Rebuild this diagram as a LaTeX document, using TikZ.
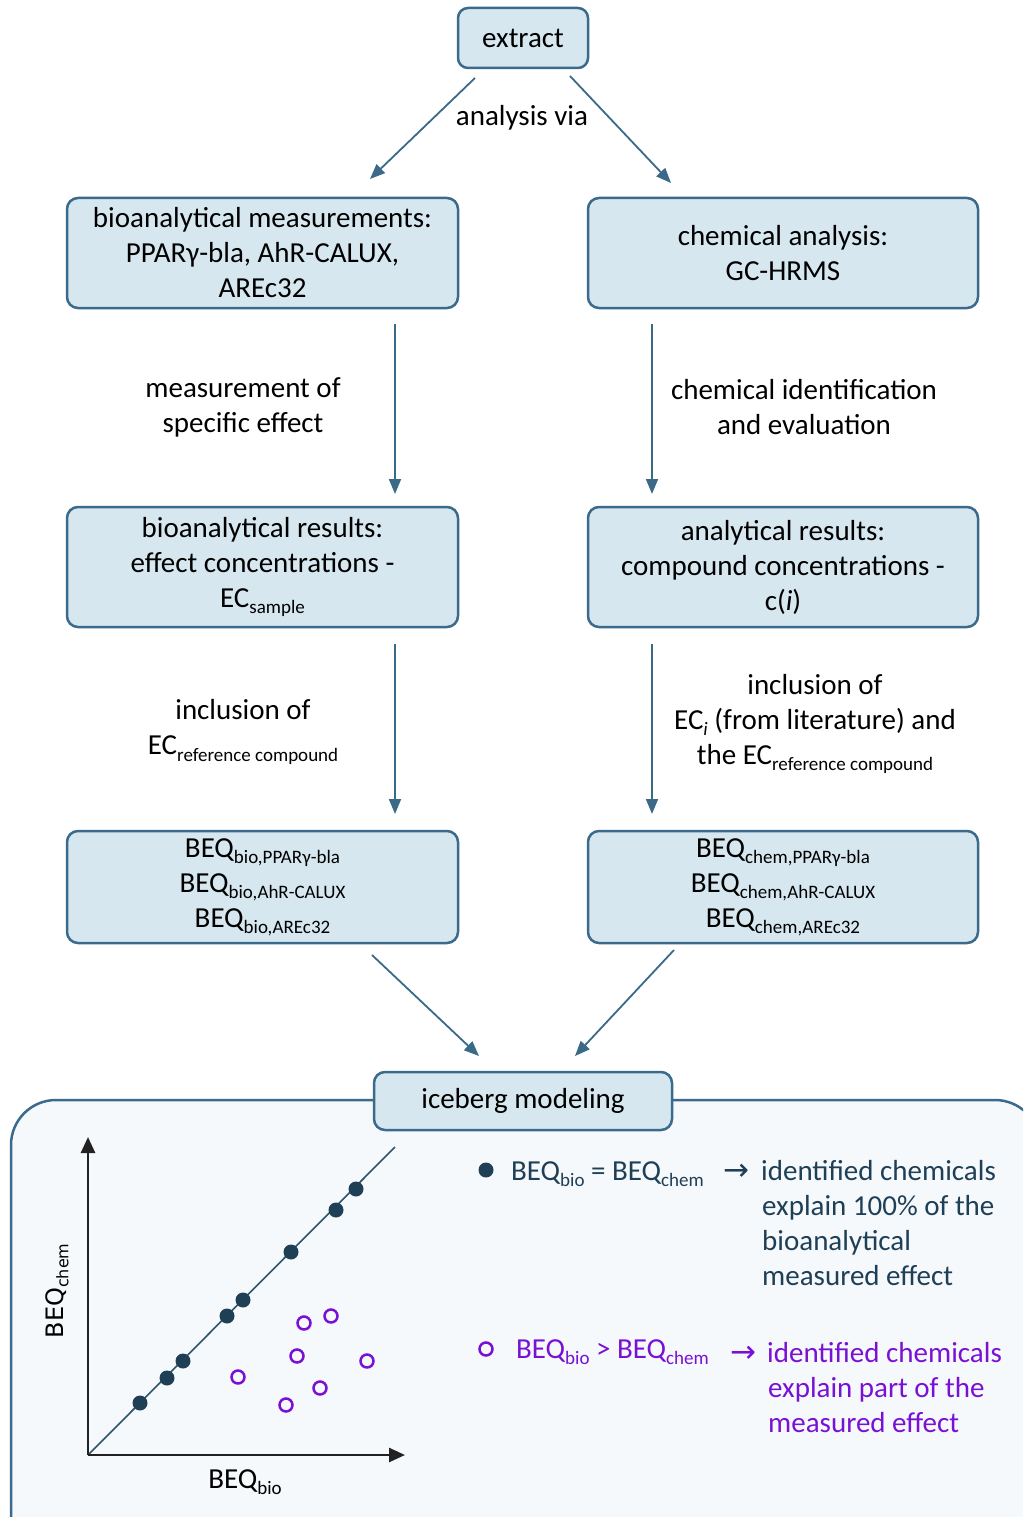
\documentclass[tikz,border=0pt]{standalone}
\usepackage{fontspec}
\setmainfont{Carlito}
\newfontfamily\symf{DejaVu Sans}
\usetikzlibrary{arrows.meta,calc}
\definecolor{bordc}{HTML}{3A6B8C}
\definecolor{fillc}{HTML}{D7E7F0}
\definecolor{panelc}{HTML}{F5F9FC}
\definecolor{arrc}{HTML}{3A6A88}
\definecolor{dotc}{HTML}{1F3F56}
\definecolor{purp}{HTML}{7A10D4}
\definecolor{axc}{HTML}{222222}
\newcommand\sbs[1]{\raisebox{-0.22em}{\fontsize{19}{19}\selectfont #1}}
\begin{document}
\begin{tikzpicture}[x=1pt,y=-1pt,font=\fontsize{29}{35}\selectfont,
  box/.style={draw=bordc,fill=fillc,line width=2.5pt,rounded corners=11pt,align=center,inner sep=0pt},
  conn/.style={draw=arrc,line width=1.8pt,-{Triangle[length=15pt,width=12pt]}},
  axis/.style={draw=axc,line width=2.6pt,-{Triangle[length=16pt,width=14pt]}},
  lbl/.style={align=center,inner sep=0pt},
  fdot/.style={circle,fill=dotc,inner sep=0pt,minimum size=15pt},
  odot/.style={circle,draw=purp,line width=2.5pt,inner sep=0pt,minimum size=13pt},
  ltxt/.style={anchor=base west,inner sep=0pt},
  larr/.style={anchor=base west,inner sep=0pt,font=\symf\fontsize{31}{31}\selectfont}]
\useasboundingbox (0,0) rectangle (1023,1517);
\clip (0,0) rectangle (1023,1517);
\fill[white] (0,0) rectangle (1023,1517);

% boxes
\node[box,minimum width=130pt,minimum height=60pt,rounded corners=10pt] (extract) at (523,38) {extract};
\node[box,minimum width=391pt,minimum height=110pt] (bio1) at (262.5,253) {bioanalytical measurements:\\PPARγ-bla, AhR-CALUX,\\AREc32};
\node[box,minimum width=390pt,minimum height=110pt] (chem1) at (783,253) {chemical analysis:\\GC-HRMS};
\node[box,minimum width=391pt,minimum height=120pt] (bio2) at (262.5,567) {bioanalytical results:\\effect concentrations -\\EC\sbs{sample}};
\node[box,minimum width=390pt,minimum height=120pt] (chem2) at (783,567) {analytical results:\\compound concentrations -\\c(\textit{i})};
\node[box,minimum width=391pt,minimum height=112pt] (bio3) at (262.5,887) {BEQ\sbs{bio,PPARγ-bla}\\BEQ\sbs{bio,AhR-CALUX}\\BEQ\sbs{bio,AREc32}};
\node[box,minimum width=390pt,minimum height=112pt] (chem3) at (783,887) {BEQ\sbs{chem,PPARγ-bla}\\BEQ\sbs{chem,AhR-CALUX}\\BEQ\sbs{chem,AREc32}};

% panel
\draw[draw=bordc,fill=panelc,line width=2.5pt,rounded corners=45pt] (11,1100) rectangle (1040,1560);
\node[box,minimum width=298pt,minimum height=58pt] (ice) at (523,1101) {iceberg modeling};

% connector end points
\coordinate (e1) at (475,78);  \coordinate (e1t) at (370,179);
\coordinate (e2) at (570,76);  \coordinate (e2t) at (671,183);
\coordinate (v1) at (395,324); \coordinate (v1t) at (395,494);
\coordinate (v2) at (652,324); \coordinate (v2t) at (652,494);
\coordinate (v3) at (395,644); \coordinate (v3t) at (395,814);
\coordinate (v4) at (652,644); \coordinate (v4t) at (652,814);
\coordinate (d1) at (372,955); \coordinate (d1t) at (479,1056);
\coordinate (d2) at (674,950); \coordinate (d2t) at (575,1056);

\draw[conn] (e1) -- (e1t);
\draw[conn] (e2) -- (e2t);
\draw[conn] (v1) -- (v1t);
\draw[conn] (v2) -- (v2t);
\draw[conn] (v3) -- (v3t);
\draw[conn] (v4) -- (v4t);
\draw[conn] (d1) -- (d1t);
\draw[conn] (d2) -- (d2t);

% labels
\node[lbl] (l0) at (522,118) {analysis via};
\node[lbl] (l1) at (243,407) {measurement of\\specific effect};
\node[lbl] (l2) at (804,407) {chemical identification\\and evaluation};
\node[lbl] (l3) at (243,732) {inclusion of\\EC\sbs{reference compound}};
\node[lbl] (l4) at (815,724) {inclusion of\\EC\sbs{\textit{i}} (from literature) and\\the EC\sbs{reference compound}};

% plot
\coordinate (o) at (88,1455);
\coordinate (yt) at (88,1137);
\coordinate (xt) at (405,1455);
\coordinate (dt) at (395,1147);
\draw[draw=arrc!80!black,line width=1.6pt] (o) -- (dt);
\draw[axis] (o) -- (yt);
\draw[axis] (o) -- (xt);
\foreach \p [count=\i] in {(140,1403),(167,1378),(183,1361),(227,1316),(243,1300),(291,1252),(336,1210),(356,1189)}
  \node[fdot] (f\i) at \p {};
\foreach \p [count=\i] in {(304,1323),(331,1316),(297,1356),(367,1361),(238,1377),(320,1388),(286,1405)}
  \node[odot] (o\i) at \p {};
\node[lbl] (xl) at (245,1482) {BEQ\sbs{bio}};
\node[lbl,rotate=90,font=\symf\fontsize{24}{28}\selectfont] (yl) at (57,1291) {BEQ\raisebox{-0.22em}{\fontsize{16}{16}\selectfont chem}};

% legend
\node[fdot] (lg1) at (486,1170) {};
\node[ltxt,text=dotc] (lt1) at (511,1180) {BEQ\sbs{bio} = BEQ\sbs{chem}};
\node[larr,text=dotc] (la1) at (723,1180) {→};
\node[ltxt,text=dotc] (lt1a) at (761,1180) {identified chemicals};
\node[ltxt,text=dotc] (lt1b) at (762,1215) {explain 100\% of the};
\node[ltxt,text=dotc] (lt1c) at (762,1250) {bioanalytical};
\node[ltxt,text=dotc] (lt1d) at (762,1285) {measured effect};

\node[odot] (lg2) at (486,1349) {};
\node[ltxt,text=purp] (lt2) at (516,1358) {BEQ\sbs{bio} > BEQ\sbs{chem}};
\node[larr,text=purp] (la2) at (730,1362) {→};
\node[ltxt,text=purp] (lt2a) at (767,1362) {identified chemicals};
\node[ltxt,text=purp] (lt2b) at (768,1397) {explain part of the};
\node[ltxt,text=purp] (lt2c) at (768,1432) {measured effect};
\end{tikzpicture}
\end{document}
